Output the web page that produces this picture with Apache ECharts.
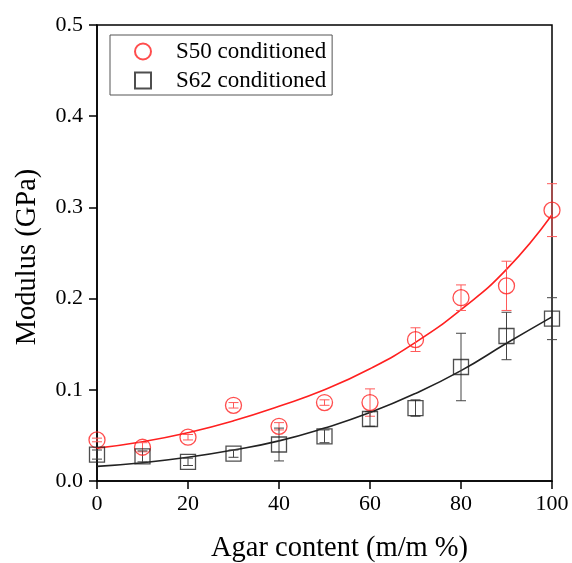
<!DOCTYPE html>
<html>
<head>
<meta charset="utf-8">
<script src="https://cdn.jsdelivr.net/npm/echarts@6/dist/echarts.min.js"></script>
<style>
  html, body { margin: 0; padding: 0; background: #fff; }
  #chart { width: 572px; height: 563px; }
</style>
</head>
<body>
<div id="chart"></div>
<script>
// 数据
const agar = [0, 10, 20, 30, 40, 50, 60, 70, 80, 90, 100]
const s50 = [0.045, 0.037, 0.048, 0.083, 0.060, 0.086, 0.086, 0.155, 0.201, 0.214, 0.297]
const s50Err = [0.002, 0.005, 0.003, 0.003, 0.004, 0.003, 0.015, 0.013, 0.014, 0.027, 0.029]
const s62 = [0.029, 0.027, 0.021, 0.030, 0.040, 0.049, 0.068, 0.080, 0.125, 0.159, 0.178]
const s62Err = [0.005, 0.006, 0.004, 0.004, 0.018, 0.007, 0.008, 0.009, 0.037, 0.026, 0.023]
// 拟合曲线
const s50Fit = [0.036, 0.043, 0.053, 0.066, 0.082, 0.100, 0.123, 0.152, 0.188, 0.232, 0.292]
const s62Fit = [0.016, 0.020, 0.026, 0.034, 0.044, 0.058, 0.075, 0.096, 0.121, 0.151, 0.180]
const yTicks = ['0.0', '0.1', '0.2', '0.3', '0.4', '0.5']

const font = 'Liberation Serif'
const red = '#ff2020'
const dark = '#222222'

const pts = (ys) => agar.map((x, i) => [x, ys[i]])
const bars = (ys, es) => agar.map((x, i) => [x, ys[i] - es[i], ys[i] + es[i]])

// 误差棒
const errorBar = (color) => (params, api) => {
  const lo = api.coord([api.value(0), api.value(1)])
  const hi = api.coord([api.value(0), api.value(2)])
  const w = 5
  const style = { stroke: color, lineWidth: 1 }
  return {
    type: 'group',
    children: [
      { type: 'line', shape: { x1: lo[0], y1: lo[1], x2: hi[0], y2: hi[1] }, style },
      { type: 'line', shape: { x1: lo[0] - w, y1: lo[1], x2: lo[0] + w, y2: lo[1] }, style },
      { type: 'line', shape: { x1: hi[0] - w, y1: hi[1], x2: hi[0] + w, y2: hi[1] }, style }
    ]
  }
}

const chart = echarts.init(document.getElementById('chart'))
chart.setOption({
  animation: false,
  backgroundColor: '#fff',
  grid: {
    left: 97, right: 20, top: 25, bottom: 82,
    outerBoundsMode: 'none',
    show: true, borderColor: '#000', borderWidth: 1.5
  },
  legend: {
    left: 110, top: 35,
    orient: 'vertical',
    padding: [5, 6, 3, 24],
    itemGap: 6,
    itemWidth: 16, itemHeight: 16,
    borderColor: '#555', borderWidth: 1,
    textStyle: { fontFamily: font, fontSize: 23, color: '#000', padding: [0, 0, 0, 20] },
    data: ['S50 conditioned', 'S62 conditioned']
  },
  xAxis: {
    type: 'value', min: 0, max: 100, interval: 20,
    name: 'Agar content (m/m %)', nameLocation: 'middle', nameGap: 53,
    nameTextStyle: { fontFamily: font, fontSize: 28.5, color: '#000', padding: [0, 0, 0, 30] },
    axisLine: { lineStyle: { color: '#000', width: 1.5 } },
    axisTick: { inside: false, length: 8, lineStyle: { color: '#000', width: 1.5 } },
    axisLabel: { fontFamily: font, fontSize: 22, color: '#000', margin: 12 },
    splitLine: { show: false }
  },
  yAxis: {
    type: 'value', min: 0, max: 0.5, interval: 0.1,
    name: 'Modulus (GPa)', nameLocation: 'middle', nameGap: 55,
    nameTextStyle: { fontFamily: font, fontSize: 28.5, color: '#000', padding: [0, 8, 0, 0] },
    axisLine: { lineStyle: { color: '#000', width: 1.5 } },
    axisTick: { inside: false, length: 8, lineStyle: { color: '#000', width: 1.5 } },
    axisLabel: { fontFamily: font, fontSize: 22, color: '#000', margin: 14, formatter: (v) => yTicks[Math.round(v * 10)] },
    splitLine: { show: false }
  },
  series: [
    { type: 'line', data: pts(s50Fit), smooth: true, showSymbol: false, lineStyle: { color: red, width: 1.6 }, silent: true, z: 2 },
    { type: 'line', data: pts(s62Fit), smooth: true, showSymbol: false, lineStyle: { color: dark, width: 1.6 }, silent: true, z: 2 },
    { type: 'custom', data: bars(s50, s50Err), renderItem: errorBar('#ff5a5a'), z: 3 },
    { type: 'custom', data: bars(s62, s62Err), renderItem: errorBar('#444'), z: 3 },
    {
      name: 'S50 conditioned', type: 'scatter', data: pts(s50), symbol: 'circle', symbolSize: 16,
      itemStyle: { color: 'rgba(255,255,255,0)', borderColor: red, borderWidth: 1.3 }, z: 4
    },
    {
      name: 'S62 conditioned', type: 'scatter', data: pts(s62), symbol: 'rect', symbolSize: 15,
      itemStyle: { color: 'rgba(255,255,255,0)', borderColor: dark, borderWidth: 1.3 }, z: 4
    }
  ]
})
</script>
</body>
</html>
